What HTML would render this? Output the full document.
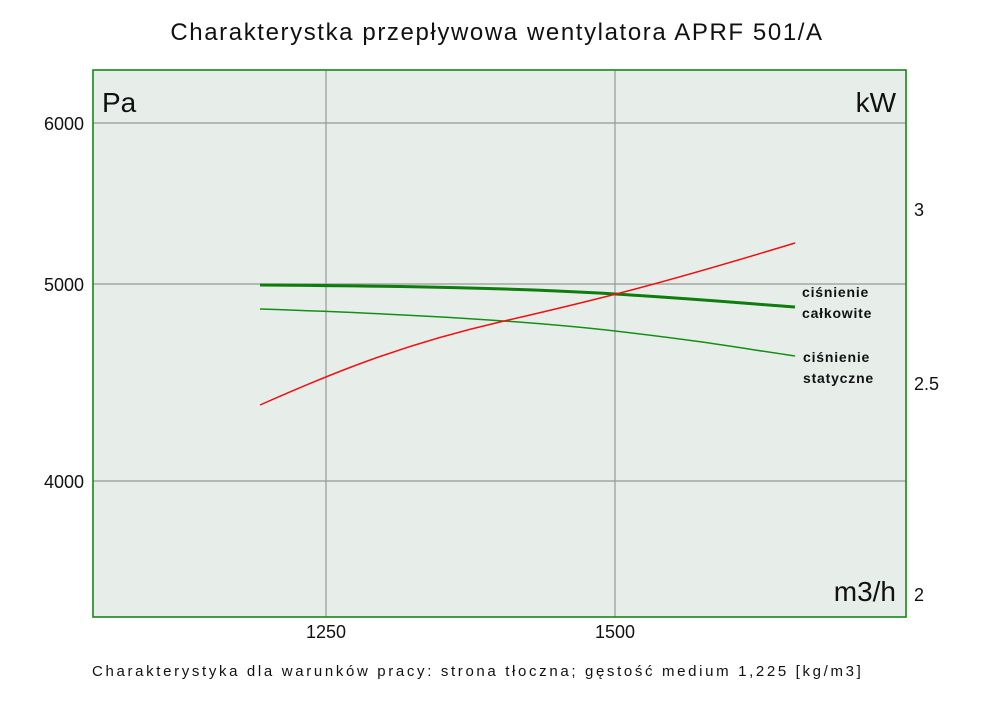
<!DOCTYPE html>
<html><head><meta charset="utf-8"><style>
html,body{margin:0;padding:0;background:#fff;}
svg{display:block;font-family:"Liberation Sans","DejaVu Sans",sans-serif;}
</style></head><body>
<svg width="1000" height="706" viewBox="0 0 1000 706">
<text x="497" y="40" text-anchor="middle" font-size="24" fill="#111" letter-spacing="1.6">Charakterystka przepływowa wentylatora APRF 501/A</text>
<rect x="93" y="70" width="813" height="547" fill="#e7eeea"/>
<g stroke="#999" stroke-width="1.2">
<line x1="326" y1="70" x2="326" y2="617"/>
<line x1="615" y1="70" x2="615" y2="617"/>
<line x1="93" y1="123" x2="906" y2="123"/>
<line x1="93" y1="284" x2="906" y2="284"/>
<line x1="93" y1="481" x2="906" y2="481"/>
</g>
<rect x="93" y="70" width="813" height="547" fill="none" stroke="#138a13" stroke-width="1.6"/>
<text x="102" y="112" font-size="28" fill="#111">Pa</text>
<text x="896" y="112" font-size="28" fill="#111" text-anchor="end">kW</text>
<text x="896" y="601" font-size="28" fill="#111" text-anchor="end">m3/h</text>
<g font-size="18" fill="#111" text-anchor="end">
<text x="84" y="130">6000</text>
<text x="84" y="291">5000</text>
<text x="84" y="488">4000</text>
</g>
<g font-size="18" fill="#111">
<text x="914" y="216">3</text>
<text x="914" y="390">2.5</text>
<text x="914" y="601">2</text>
</g>
<g font-size="18" fill="#111" text-anchor="middle">
<text x="326" y="638">1250</text>
<text x="615" y="638">1500</text>
</g>
<path d="M260,285 C400,286 520,288 615,294 S740,303 795,307" fill="none" stroke="#0d7d0d" stroke-width="3"/>
<path d="M260,309 C380,313 520,320 615,331 S740,348 795,356" fill="none" stroke="#139013" stroke-width="1.5"/>
<path d="M260,405 C330,374 400,345 500,322 S660,284 795,243" fill="none" stroke="#f01010" stroke-width="1.5"/>
<g font-size="14" fill="#111" font-weight="bold" letter-spacing="0.8">
<text x="802" y="297">ciśnienie</text>
<text x="802" y="318">całkowite</text>
<text x="803" y="362">ciśnienie</text>
<text x="803" y="383">statyczne</text>
</g>
<text x="92" y="676" font-size="15" fill="#111" letter-spacing="2.65">Charakterystyka dla warunków pracy: strona tłoczna; gęstość medium 1,225 [kg/m3]</text>
</svg>
</body></html>
